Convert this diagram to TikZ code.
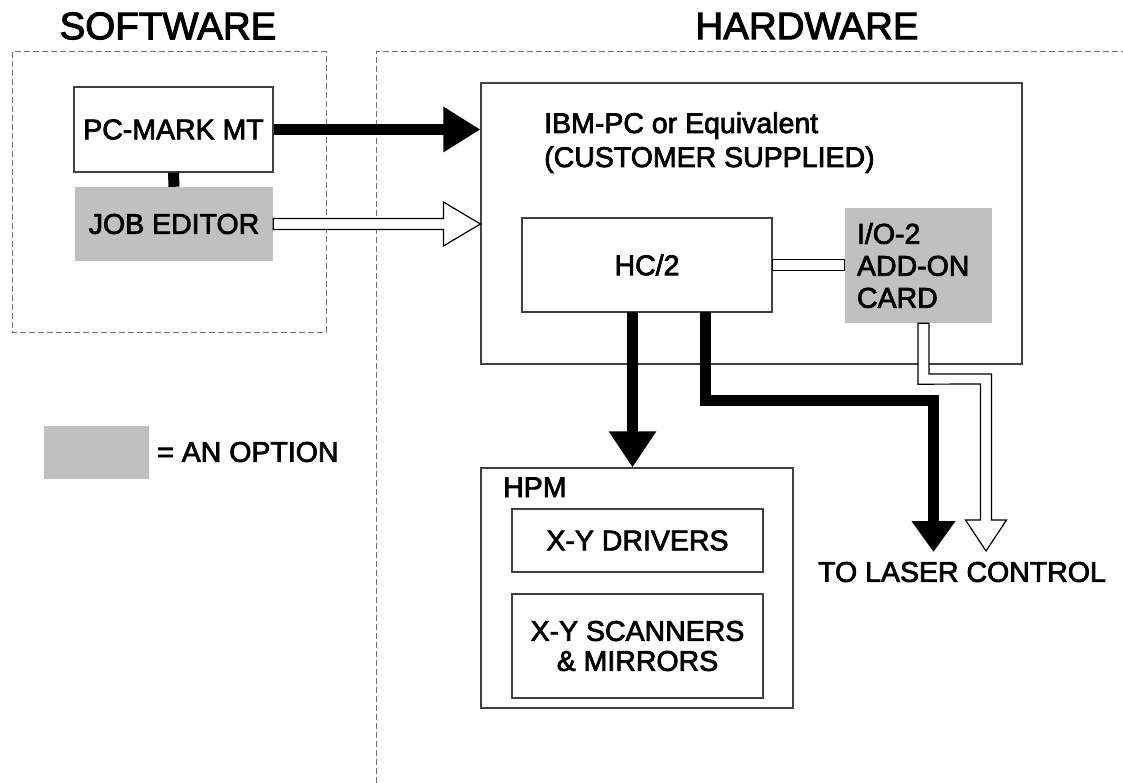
\documentclass[tikz,border=0pt]{standalone}
\usepackage{fontspec}
\setmainfont{Liberation Sans}[FakeBold=2.6]
\usetikzlibrary{arrows.meta,calc}
\definecolor{optgray}{HTML}{C0C0C0}
\definecolor{edgecol}{HTML}{404040}
\definecolor{dashgray}{HTML}{707070}
\newcommand\figfont{\fontsize{28.5}{32}\selectfont}
\newcommand\bigfont{\fontsize{38.5}{40}\selectfont}
\begin{document}
\begin{tikzpicture}[x=1pt,y=-1pt,
  box/.style={draw=edgecol, line width=1.2pt, fill=white, inner sep=0pt, font=\figfont},
  optbox/.style={fill=optgray, inner sep=0pt, font=\figfont},
  dashbox/.style={draw=dashgray, line width=1pt, dash pattern=on 6pt off 3pt},
  lbl/.style={inner sep=0pt, font=\figfont},
  title/.style={inner sep=0pt, font=\bigfont},
  blackarrow/.style={line width=11pt, line join=miter},
  openarrow/.style={draw=black, line width=1.2pt, fill=white, line join=miter}]
\useasboundingbox (0,0) rectangle (1123,783);
\fill[white] (0,0) rectangle (1123,783);

% titles and dashed regions
\node[title] (swtitle) at (168,26) {SOFTWARE};
\node[title] (hwtitle) at (807,26) {HARDWARE};
\draw[dashbox] (12,52) rectangle (326,332);
\draw[dashbox] (376,783) -- (376,52) -- (1123,52);

% software
\node[box, minimum width=199pt, minimum height=85pt] (pcmark) at (173.5,129.5) {PC-MARK MT};
\node[optbox, minimum width=198pt, minimum height=74pt] (job) at (174,224) {JOB EDITOR};
\draw[line width=11pt] (pcmark.south) -- (job.north);

% legend
\node[optbox, minimum width=105pt, minimum height=53pt] (legend) at (96.5,452.5) {};
\node[lbl, anchor=west] (legendtxt) at (157,452) {= AN OPTION};

% hardware
\node[box, minimum width=541pt, minimum height=281pt] (ibm) at (751.5,223.5) {};
\node[lbl, anchor=base west] (ibmtxt1) at (544,133) {IBM-PC or Equivalent};
\node[lbl, anchor=base west] (ibmtxt2) at (544,167) {(CUSTOMER SUPPLIED)};
\node[box, minimum width=250pt, minimum height=94pt] (hc) at (647,265) {HC/2};
\node[optbox, minimum width=147pt, minimum height=115pt, text width=123pt,
      inner xsep=12pt, align=left, font=\fontsize{28.5}{32}\selectfont] (io) at (918.5,265.5) {I/O-2\\ADD-ON\\CARD};

\node[box, minimum width=312pt, minimum height=240pt] (hpm) at (637,588) {};
\node[lbl, anchor=base west] (hpmtxt) at (503,497) {HPM};
\node[box, minimum width=251pt, minimum height=63pt] (drv) at (637.5,540.5) {X-Y DRIVERS};
\node[box, minimum width=251pt, minimum height=104pt, align=center,
      font=\fontsize{28.5}{30}\selectfont] (scan) at (637.5,646) {X-Y SCANNERS\\\& MIRRORS};

\node[lbl] (laser) at (962,572) {TO LASER CONTROL};
\coordinate (lasertipA) at (933.5,552);
\coordinate (lasertipB) at (986,551);
\coordinate (hcoutA) at (632.5,312);
\coordinate (hcoutB) at (705,312);

% PC-MARK -> IBM (solid)
\draw[blackarrow, -{Triangle[length=37pt,width=43pt]}] (pcmark.east) -- (pcmark.east -| ibm.west);

% JOB EDITOR -> IBM (open)
\draw[openarrow] ($(job.east)+(0,-5.5)$)
  -- ($(ibm.west |- job.east)+(-37,-5.5)$) -- ($(ibm.west |- job.east)+(-37,-22)$)
  -- (ibm.west |- job.east)
  -- ($(ibm.west |- job.east)+(-37,22)$) -- ($(ibm.west |- job.east)+(-37,5.5)$)
  -- ($(job.east)+(0,5.5)$) -- cycle;

% HC/2 <-> I/O-2
\draw[openarrow] ($(hc.east)+(0,-5.5)$) rectangle ($(io.west)+(0,5)$);

% HC/2 -> HPM
\draw[blackarrow, -{Triangle[length=36pt,width=45pt]}] (hcoutA) -- (hcoutA |- hpm.north);

% HC/2 -> laser control
\draw[blackarrow, -{Triangle[length=31pt,width=42pt]}] (hcoutB) -- ++(0,88.5) -| (lasertipA);

% I/O-2 -> laser control (open)
\draw[openarrow] ($(io.south)+(-0.5,0)$) -- ++(0,61) -- (980.5,384) -- (980.5,520)
  -- (965.5,520) -- (lasertipB) -- (1006.5,520) -- (991.5,520) -- (991.5,374)
  -- (929,374) -- ($(io.south)+(10.5,0)$) -- cycle;
\end{tikzpicture}
\end{document}
